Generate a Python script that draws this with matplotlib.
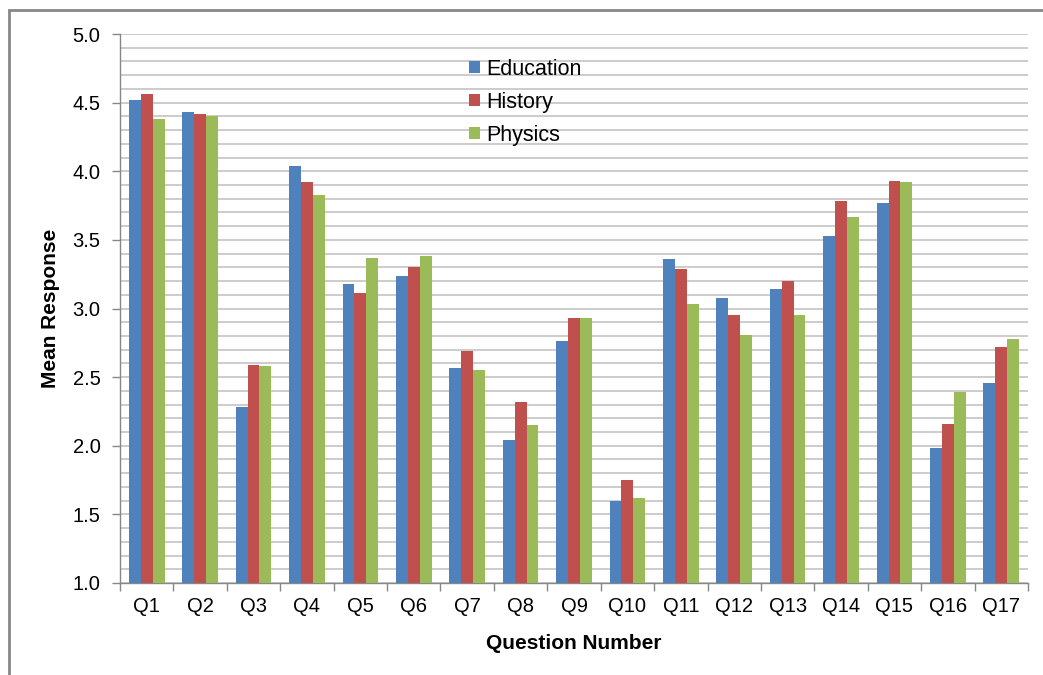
import matplotlib
matplotlib.use("Agg")
import matplotlib.pyplot as plt
import numpy as np
from matplotlib.patches import Rectangle
from matplotlib.ticker import MultipleLocator

plt.rcParams['font.family'] = ['Liberation Sans', 'DejaVu Sans']

questions = ["Q1", "Q2", "Q3", "Q4", "Q5", "Q6", "Q7", "Q8", "Q9", "Q10",
             "Q11", "Q12", "Q13", "Q14", "Q15", "Q16", "Q17"]
education = [4.52, 4.43, 2.28, 4.04, 3.18, 3.24, 2.57, 2.04, 2.76, 1.60,
             3.36, 3.08, 3.14, 3.53, 3.77, 1.98, 2.46]
history = [4.56, 4.42, 2.59, 3.92, 3.11, 3.30, 2.69, 2.32, 2.93, 1.75,
           3.29, 2.95, 3.20, 3.78, 3.93, 2.16, 2.72]
physics = [4.38, 4.40, 2.58, 3.83, 3.37, 3.38, 2.55, 2.15, 2.93, 1.62,
           3.03, 2.81, 2.95, 3.67, 3.92, 2.39, 2.78]

series = [("Education", education, "#4F81BD"),
          ("History", history, "#C0504D"),
          ("Physics", physics, "#9BBB59")]

W, H = 1043, 675
fig = plt.figure(figsize=(W / 100, H / 100), dpi=100)
ax = fig.add_axes([120 / W, 1 - 583 / H, 908 / W, 549 / H])

# outer chart frame
fig.patches.append(Rectangle((9 / W, -0.01), 1.02, 1 - 10 / H + 0.01,
                             transform=fig.transFigure, fill=False,
                             edgecolor="#878787", linewidth=2.0, zorder=0))

x = np.arange(len(questions))
bw = 1 / 4.5
base = 1.0
for i, (name, vals, col) in enumerate(series):
    v = np.array(vals)
    ax.bar(x + (i - 1) * bw, v - base, width=bw, bottom=base, color=col,
           label=name, zorder=3, linewidth=0)

ax.set_xlim(-0.5, len(questions) - 0.5)
ax.set_ylim(1.0, 5.0)
ax.yaxis.set_major_locator(MultipleLocator(0.5))
ax.yaxis.set_minor_locator(MultipleLocator(0.1))
ax.yaxis.set_major_formatter(matplotlib.ticker.FormatStrFormatter("%.1f"))
ax.grid(axis="y", which="both", color="#C8C8C8", linewidth=1.3, zorder=0)

ax.set_xticks(x)
ax.set_xticklabels(questions)
ax.set_xticks(np.arange(-0.5, len(questions)), minor=True)
ax.tick_params(axis="x", which="major", length=0, pad=10, labelsize=14.5)
ax.tick_params(axis="x", which="minor", length=6, color="#878787", width=1)
ax.tick_params(axis="y", which="major", length=6, color="#878787", width=1,
               labelsize=14.5, pad=8)
ax.tick_params(axis="y", which="minor", length=0)

for side in ("top", "right"):
    ax.spines[side].set_visible(False)
for side in ("left", "bottom"):
    ax.spines[side].set_color("#878787")
    ax.spines[side].set_linewidth(1.0)

ax.set_ylabel("Mean Response", fontsize=15, fontweight="bold", labelpad=9)
ax.set_xlabel("Question Number", fontsize=15, fontweight="bold", labelpad=13)

leg = ax.legend(loc="upper left", bbox_to_anchor=(0.363, 0.99), frameon=False,
                fontsize=15.5, handlelength=0.5, handleheight=0.5,
                handletextpad=0.3, labelspacing=0.55)

fig.savefig("out.png", dpi=100)
